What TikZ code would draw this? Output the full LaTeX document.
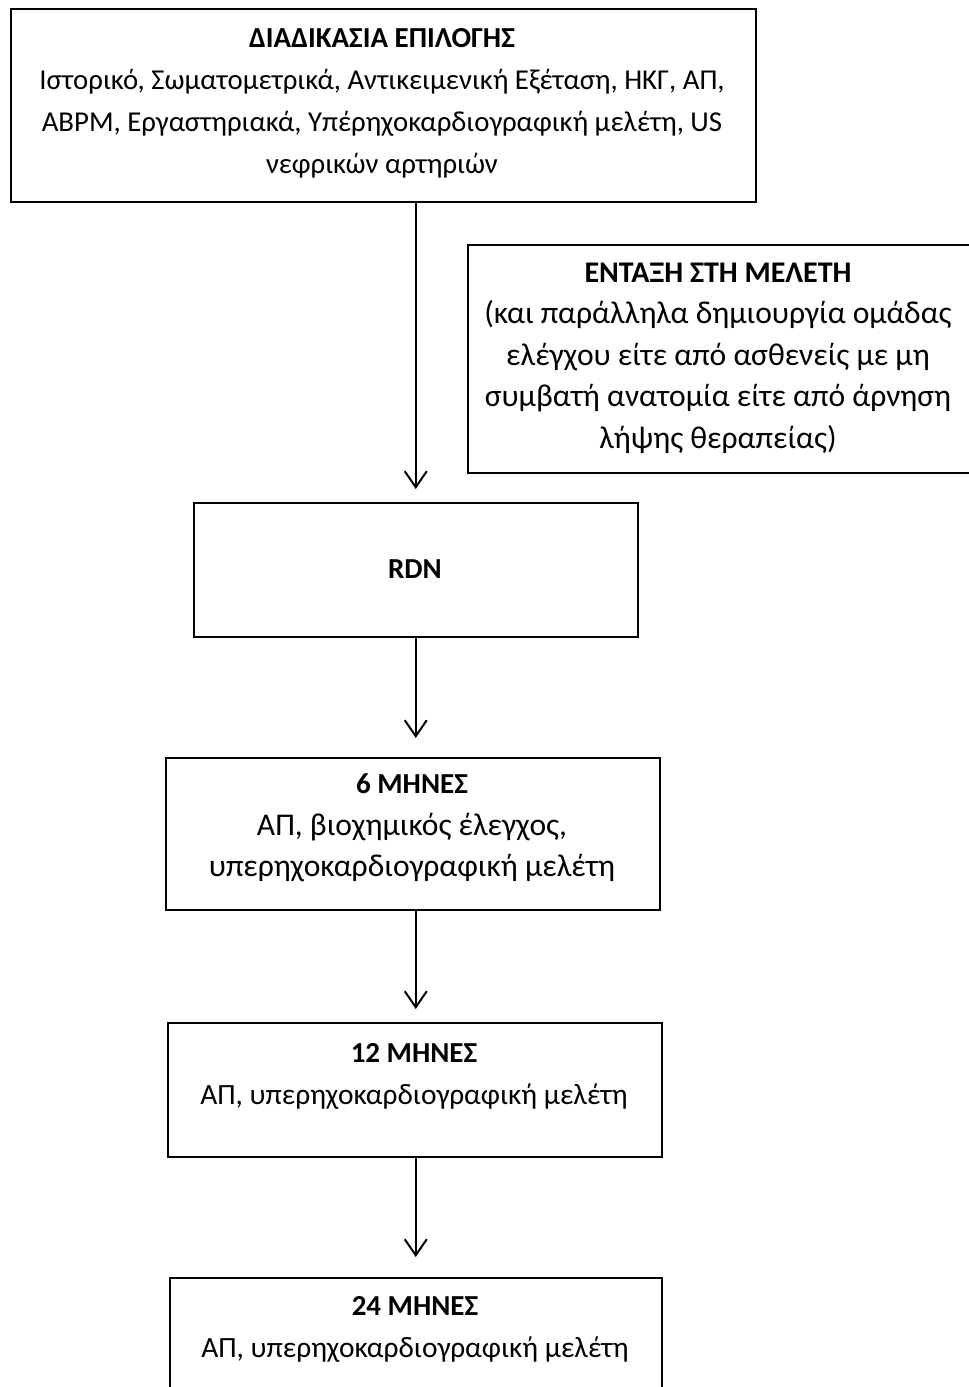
\documentclass[tikz,border=0pt]{standalone}
\usepackage{fontspec}
\setmainfont{Carlito}
\usetikzlibrary{arrows.meta}
\newcommand{\fsA}{\fontsize{29.4}{42}\selectfont}
\newcommand{\fsT}{\fontsize{28.8}{42}\selectfont}
\newcommand{\fsB}{\fontsize{31.6}{41.5}\selectfont}
\newcommand{\hdA}{\fontsize{29}{42}\selectfont\bfseries}
\newcommand{\hdB}{\fontsize{30}{41.5}\selectfont\bfseries}
\tikzset{
  box/.style={draw=black, line width=1.5pt, fill=none, inner sep=0pt, anchor=north west},
  txt/.style={align=center, inner sep=0pt},
  arr/.style={draw=black, line width=2pt, -{Straight Barb[length=16pt,width=22pt,line width=2pt]}}
}
\begin{document}
\begin{tikzpicture}[x=1pt,y=-1pt]
\useasboundingbox[fill=white] (0,0) rectangle (969,1387);
% boxes
\node[box, minimum width=745pt, minimum height=193pt] (sel) at (10,8) {};
\node[box, minimum width=510pt, minimum height=228pt] (inc) at (467,244) {};
\node[box, minimum width=444pt, minimum height=134pt] (rdn) at (193,502) {};
\node[box, minimum width=494pt, minimum height=152pt] (m6) at (165,757) {};
\node[box, minimum width=494pt, minimum height=134pt] (m12) at (167,1022) {};
\node[box, minimum width=492pt, minimum height=140pt] (m24) at (169,1277) {};
% texts
\node[txt, font=\fsT] (selt) at (382,103) {{\hdA ΔΙΑΔΙΚΑΣΙΑ ΕΠΙΛΟΓΗΣ}\\Ιστορικό, Σωματομετρικά, Αντικειμενική Εξέταση, ΗΚΓ, ΑΠ,\\ABPM, Εργαστηριακά, Υπέρηχοκαρδιογραφική μελέτη, US\\νεφρικών αρτηριών};
\node[txt, font=\fsB] (inct) at (718,358) {{\hdB ΕΝΤΑΞΗ ΣΤΗ ΜΕΛΕΤΗ}\\(και παράλληλα δημιουργία ομάδας\\ελέγχου είτε από ασθενείς με μη\\συμβατή ανατομία είτε από άρνηση\\λήψης θεραπείας)};
\node[txt, font=\hdA] (rdnt) at (415,569) {RDN};
\node[txt, font=\fsB] (m6t) at (412,828) {{\hdA 6 ΜΗΝΕΣ}\\ΑΠ, βιοχημικός έλεγχος,\\υπερηχοκαρδιογραφική μελέτη};
\node[txt, font=\fsA] (m12t) at (414,1076) {{\hdA 12 ΜΗΝΕΣ}\\ΑΠ, υπερηχοκαρδιογραφική μελέτη};
\node[txt, font=\fsA] (m24t) at (415,1329) {{\hdA 24 ΜΗΝΕΣ}\\ΑΠ, υπερηχοκαρδιογραφική μελέτη};
% arrows
\draw[arr, shorten >=13pt] (sel.south -| rdn.north) -- (rdn.north);
\draw[arr, shorten >=19pt] (rdn.south) -- (m6.north -| rdn.south);
\draw[arr, shorten >=13pt] (m6.south -| rdn.south) -- (m12.north -| rdn.south);
\draw[arr, shorten >=20pt] (m12.south -| rdn.south) -- (m24.north -| rdn.south);
\end{tikzpicture}
\end{document}
